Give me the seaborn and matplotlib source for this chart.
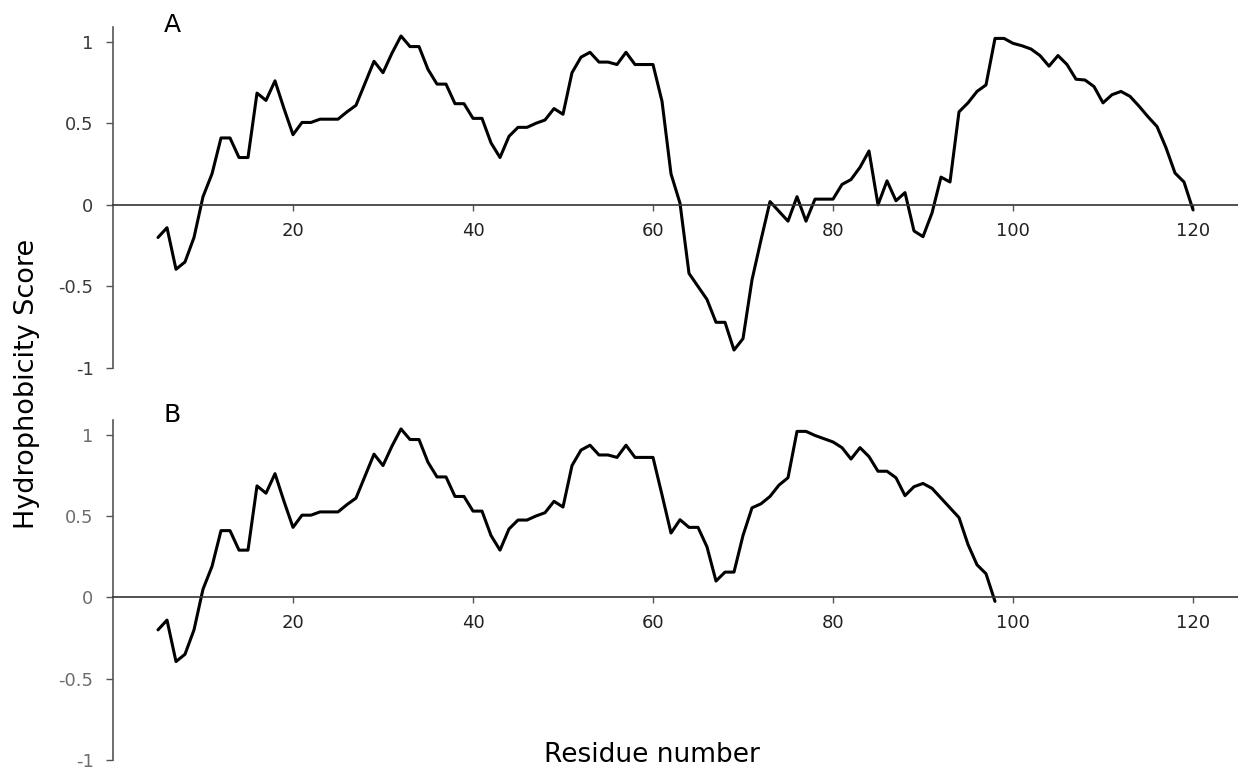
import numpy as np
import pandas as pd
import matplotlib
matplotlib.use("Agg")
import matplotlib.pyplot as plt
import seaborn as sns

# ---------------- data ----------------
residues_A = list(range(5, 121))
score_A = [
    -0.20, -0.14, -0.395, -0.35, -0.20, 0.05, 0.19, 0.41, 0.41, 0.29,      # 5-14
    0.29, 0.685, 0.64, 0.76, 0.59, 0.43, 0.505, 0.505, 0.525, 0.525,       # 15-24
    0.525, 0.57, 0.61, 0.745, 0.88, 0.81, 0.93, 1.035, 0.97, 0.97,         # 25-34
    0.83, 0.74, 0.74, 0.62, 0.62, 0.53, 0.53, 0.38, 0.29, 0.42,            # 35-44
    0.475, 0.475, 0.50, 0.52, 0.59, 0.555, 0.81, 0.905, 0.935, 0.875,      # 45-54
    0.875, 0.86, 0.935, 0.86, 0.86, 0.86, 0.635, 0.19, 0.01, -0.42,        # 55-64
    -0.50, -0.58, -0.72, -0.72, -0.89, -0.82, -0.46, -0.215, 0.02, -0.04,  # 65-74
    -0.10, 0.05, -0.10, 0.035, 0.035, 0.035, 0.125, 0.155, 0.23, 0.33,     # 75-84
    0.0, 0.147, 0.025, 0.075, -0.16, -0.195, -0.05, 0.17, 0.14, 0.57,      # 85-94
    0.625, 0.695, 0.735, 1.02, 1.02, 0.99, 0.975, 0.955, 0.915, 0.85,      # 95-104
    0.915, 0.86, 0.77, 0.765, 0.725, 0.625, 0.675, 0.695, 0.665, 0.605,    # 105-114
    0.54, 0.48, 0.35, 0.195, 0.14, -0.03,                                  # 115-120
]

residues_B = list(range(5, 99))
score_B = [
    -0.20, -0.14, -0.395, -0.35, -0.20, 0.05, 0.19, 0.41, 0.41, 0.29,      # 5-14
    0.29, 0.685, 0.64, 0.76, 0.59, 0.43, 0.505, 0.505, 0.525, 0.525,       # 15-24
    0.525, 0.57, 0.61, 0.745, 0.88, 0.81, 0.93, 1.035, 0.97, 0.97,         # 25-34
    0.83, 0.74, 0.74, 0.62, 0.62, 0.53, 0.53, 0.38, 0.29, 0.42,            # 35-44
    0.475, 0.475, 0.50, 0.52, 0.59, 0.555, 0.81, 0.905, 0.935, 0.875,      # 45-54
    0.875, 0.86, 0.935, 0.86, 0.86, 0.86, 0.63, 0.395, 0.477, 0.43,        # 55-64
    0.43, 0.31, 0.10, 0.155, 0.155, 0.38, 0.55, 0.575, 0.62, 0.69,         # 65-74
    0.735, 1.02, 1.02, 0.995, 0.975, 0.955, 0.92, 0.85, 0.92, 0.865,       # 75-84
    0.775, 0.775, 0.735, 0.625, 0.68, 0.70, 0.67, 0.61, 0.55, 0.49,        # 85-94
    0.325, 0.20, 0.145, -0.025,                                            # 95-98
]

x_ticks = [20, 40, 60, 80, 100, 120]
y_ticks = [-1, -0.5, 0, 0.5, 1]
y_tick_labels = ["-1", "-0.5", "0", "0.5", "1"]
panel_labels = ["A", "B"]
x_label = "Residue number"
y_label = "Hydrophobicity Score"

# ---------------- style ----------------
sns.set_style("ticks")
plt.rcParams["font.family"] = ["DejaVu Sans"]

W, H = 1238, 772
fig = plt.figure(figsize=(W / 100, H / 100), dpi=100)

def px_axes(left, top, right, bottom):
    return fig.add_axes([left / W, 1 - bottom / H, (right - left) / W, (bottom - top) / H])

ax_A = px_axes(113, 27, 1238, 368)
ax_B = px_axes(113, 420, 1238, 760)

dfA = pd.DataFrame({"residue": residues_A, "score": score_A})
dfB = pd.DataFrame({"residue": residues_B, "score": score_B})

for ax, df, lab_col in [(ax_A, dfA, "#3a3a3a"), (ax_B, dfB, "#6e6e6e")]:
    sns.lineplot(data=df, x="residue", y="score", ax=ax, color="black", linewidth=2.2)
    ax.set_xlim(0, 125)
    ax.set_ylim(-1, 1.09)
    ax.spines["top"].set_visible(False)
    ax.spines["right"].set_visible(False)
    ax.spines["bottom"].set_position(("data", 0))
    ax.spines["bottom"].set_color("#333333")
    ax.spines["bottom"].set_linewidth(1.2)
    ax.spines["left"].set_color("#555555")
    ax.spines["left"].set_linewidth(1.2)
    ax.set_xticks(x_ticks)
    ax.set_xticklabels([str(t) for t in x_ticks])
    ax.set_yticks(y_ticks)
    ax.set_yticklabels(y_tick_labels)
    ax.tick_params(axis="x", direction="out", length=4, width=1.0, color="#555555",
                   labelsize=13, labelcolor="#222222", pad=8)
    ax.tick_params(axis="y", direction="out", length=5, width=1.0, color="#555555",
                   labelsize=13, labelcolor=lab_col, pad=9)
    ax.set_xlabel("")
    ax.set_ylabel("")
    ax.patch.set_alpha(0)

fig.text(172 / W, 1 - 25 / H, panel_labels[0], fontsize=18, ha="center", va="center", color="black")
fig.text(172 / W, 1 - 415 / H, panel_labels[1], fontsize=18, ha="center", va="center", color="black")
fig.text(27 / W, 1 - 384 / H, y_label, rotation=90, fontsize=19.5, ha="center", va="center", color="black")
fig.text(652 / W, 1 - 755 / H, x_label, fontsize=19, ha="center", va="center", color="black")

fig.savefig("out.png", dpi=100)
